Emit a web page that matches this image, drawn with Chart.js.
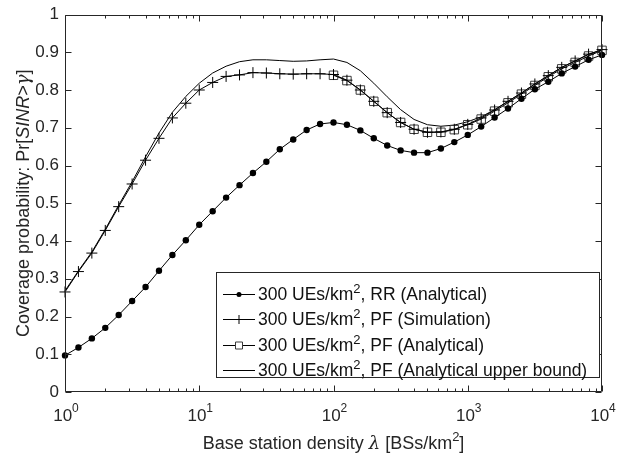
<!DOCTYPE html>
<html>
<head>
<meta charset="utf-8">
<script src="https://cdn.jsdelivr.net/npm/chart.js@4.4.1/dist/chart.umd.min.js"></script>
<style>
  html, body { margin: 0; padding: 0; background: #fff; }
  #wrap { width: 638px; height: 459px; }
</style>
</head>
<body>
<div id="wrap"><canvas id="chart" width="638" height="459"></canvas></div>
<script>
// --- data (BS density, 10 points per decade) ---
const densities = [1, 1.259, 1.585, 1.995, 2.512, 3.162, 3.981, 5.012, 6.310, 7.943,
  10, 12.59, 15.85, 19.95, 25.12, 31.62, 39.81, 50.12, 63.10, 79.43,
  100, 125.9, 158.5, 199.5, 251.2, 316.2, 398.1, 501.2, 631.0, 794.3,
  1000, 1259, 1585, 1995, 2512, 3162, 3981, 5012, 6310, 7943, 10000];
// squares of the analytical PF curve only start at 10^2
const pfAnalyticalDensities = [100, 125.9, 158.5, 199.5, 251.2, 316.2, 398.1, 501.2, 631.0, 794.3,
  1000, 1259, 1585, 1995, 2512, 3162, 3981, 5012, 6310, 7943, 10000];

const rrAnalytical = [0.097, 0.118, 0.142, 0.170, 0.204, 0.241, 0.278, 0.321, 0.363, 0.402,
  0.443, 0.479, 0.515, 0.548, 0.580, 0.610, 0.643, 0.669, 0.694, 0.710,
  0.714, 0.708, 0.693, 0.672, 0.653, 0.640, 0.634, 0.634, 0.645, 0.662,
  0.681, 0.703, 0.727, 0.751, 0.777, 0.802, 0.822, 0.844, 0.862, 0.880, 0.893];
const pfSimulation = [0.265, 0.319, 0.368, 0.428, 0.491, 0.551, 0.614, 0.672, 0.726, 0.765,
  0.800, 0.820, 0.836, 0.840, 0.846, 0.845, 0.843, 0.842, 0.843, 0.843,
  0.841, 0.826, 0.800, 0.770, 0.740, 0.714, 0.696, 0.688, 0.689, 0.696,
  0.709, 0.726, 0.747, 0.770, 0.792, 0.816, 0.838, 0.860, 0.877, 0.895, 0.907];
const pfAnalytical = [0.839, 0.825, 0.800, 0.770, 0.740, 0.714, 0.696, 0.688, 0.688, 0.695,
  0.708, 0.723, 0.744, 0.766, 0.789, 0.812, 0.835, 0.856, 0.873, 0.890, 0.905];
const pfUpperBound = [0.268, 0.321, 0.371, 0.431, 0.495, 0.557, 0.623, 0.686, 0.741, 0.783,
  0.818, 0.845, 0.863, 0.875, 0.880, 0.880, 0.878, 0.876, 0.877, 0.880,
  0.882, 0.873, 0.851, 0.818, 0.782, 0.748, 0.722, 0.708, 0.704, 0.707,
  0.716, 0.729, 0.748, 0.770, 0.792, 0.816, 0.838, 0.860, 0.877, 0.894, 0.906];

const seriesLabels = [
  '300 UEs/km², RR (Analytical)',
  '300 UEs/km², PF (Simulation)',
  '300 UEs/km², PF (Analytical)',
  '300 UEs/km², PF (Analytical upper bound)'
];

const yTicks = [0, 0.1, 0.2, 0.3, 0.4, 0.5, 0.6, 0.7, 0.8, 0.9, 1];
const yTickLabels = ['0', '0.1', '0.2', '0.3', '0.4', '0.5', '0.6', '0.7', '0.8', '0.9', '1'];
const xTicks = [1, 10, 100, 1000, 10000];
const xTickExponents = ['0', '1', '2', '3', '4'];

const FONT = '"Liberation Sans", Arial, Helvetica, sans-serif';
const SERIF = '"DejaVu Serif", "Liberation Serif", serif';
const axisColor = '#262626';

const toPoints = (xs, ys) => xs.map((x, i) => ({ x: x, y: ys[i] }));

// split a label on '²' so the 2 is drawn raised and smaller
function richPieces(text, size) {
    const parts = text.split('²');
    const out = [];
    parts.forEach((p, i) => {
        if (p) out.push({ t: p, font: size + 'px ' + FONT, dy: 0 });
        if (i < parts.length - 1) out.push({ t: '2', font: Math.round(size * 0.72) + 'px ' + FONT, dy: -Math.round(size * 0.42) });
    });
    return out;
}

function drawPieces(ctx, pieces, x, y, align) {
    let total = 0;
    pieces.forEach(p => { ctx.font = p.font; total += ctx.measureText(p.t).width; });
    let cx = align === 'center' ? x - total / 2 : x;
    ctx.textAlign = 'left';
    pieces.forEach(p => {
        ctx.font = p.font;
        ctx.fillText(p.t, cx, y + p.dy);
        cx += ctx.measureText(p.t).width;
    });
}

function drawMarker(ctx, style, x, y, r) {
    ctx.beginPath();
    if (style === 'circle') {
        ctx.arc(x, y, r, 0, Math.PI * 2);
        ctx.fill();
    } else if (style === 'cross') {
        ctx.moveTo(x - r, y); ctx.lineTo(x + r, y);
        ctx.moveTo(x, y - r); ctx.lineTo(x, y + r);
        ctx.stroke();
    } else if (style === 'rect') {
        ctx.rect(x - r, y - r, 2 * r, 2 * r);
        ctx.stroke();
    }
}

const legendStyles = [
    { marker: 'circle', r: 2.5 },
    { marker: 'cross', r: 4.5 },
    { marker: 'rect', r: 3.5 },
    { marker: null, r: 0 }
];

// MATLAB-like box: inward ticks on all four sides, tick labels, titles and legend
const matlabAxes = {
    id: 'matlabAxes',
    afterDatasetsDraw(chart) {
        const ctx = chart.ctx;
        const a = chart.chartArea;
        const xs = chart.scales.x, ys = chart.scales.y;
        const L = Math.round(a.left) + 0.5, R = Math.round(a.right) - 0.5;
        const T = Math.round(a.top) + 0.5, B = Math.round(a.bottom) - 0.5;

        ctx.save();
        ctx.strokeStyle = axisColor;
        ctx.lineWidth = 1;
        ctx.beginPath();
        ctx.rect(L, T, R - L, B - T);
        yTicks.forEach(v => {
            const p = Math.round(ys.getPixelForValue(v)) + 0.5;
            ctx.moveTo(L, p); ctx.lineTo(L + 6, p);
            ctx.moveTo(R, p); ctx.lineTo(R - 6, p);
        });
        xTicks.forEach((d, i) => {
            const p = Math.round(xs.getPixelForValue(d)) + 0.5;
            ctx.moveTo(p, B); ctx.lineTo(p, B - 6);
            ctx.moveTo(p, T); ctx.lineTo(p, T + 6);
            if (i < xTicks.length - 1) {
                for (let m = 2; m <= 9; m++) {
                    const q = Math.round(xs.getPixelForValue(d * m)) + 0.5;
                    ctx.moveTo(q, B); ctx.lineTo(q, B - 3);
                    ctx.moveTo(q, T); ctx.lineTo(q, T + 3);
                }
            }
        });
        ctx.stroke();

        // x tick labels 10^k
        ctx.fillStyle = axisColor;
        ctx.textBaseline = 'alphabetic';
        xTicks.forEach((d, i) => {
            const p = xs.getPixelForValue(d);
            drawPieces(ctx, [
                { t: '10', font: '17px ' + FONT, dy: 0 },
                { t: xTickExponents[i], font: '12px ' + FONT, dy: -9 }
            ], p + 1, 421, 'center');
        });

        // x title
        drawPieces(ctx, [
            { t: 'Base station density ', font: '18px ' + FONT, dy: 0 },
            { t: 'λ', font: 'italic 18px ' + SERIF, dy: 0 },
            { t: ' [BSs/km', font: '18px ' + FONT, dy: 0 },
            { t: '2', font: '13px ' + FONT, dy: -8 },
            { t: ']', font: '18px ' + FONT, dy: 0 }
        ], (a.left + a.right) / 2, 449, 'center');

        // y title (rotated)
        ctx.save();
        ctx.translate(29, (a.top + a.bottom) / 2);
        ctx.rotate(-Math.PI / 2);
        drawPieces(ctx, [
            { t: 'Coverage probability: Pr[', font: '18px ' + FONT, dy: 0 },
            { t: 'SINR', font: 'italic 18px ' + FONT, dy: 0 },
            { t: '>', font: '18px ' + FONT, dy: 0 },
            { t: 'γ', font: 'italic 18px ' + SERIF, dy: 0 },
            { t: ']', font: '18px ' + FONT, dy: 0 }
        ], 0, 0, 'center');
        ctx.restore();

        // legend box in the lower right corner
        const lx = a.right - 386, ly = a.bottom - 120, lw = 383, lh = 105;
        ctx.fillStyle = '#fff';
        ctx.fillRect(lx, ly, lw, lh);
        ctx.strokeRect(Math.round(lx) + 0.5, Math.round(ly) + 0.5, lw, lh);
        seriesLabels.forEach((label, i) => {
            const cy = ly + 21.5 + i * 25.6;
            const st = legendStyles[i];
            ctx.strokeStyle = '#000';
            ctx.fillStyle = '#000';
            ctx.beginPath();
            ctx.moveTo(lx + 7, Math.round(cy) + 0.5);
            ctx.lineTo(lx + 39, Math.round(cy) + 0.5);
            ctx.stroke();
            if (st.marker) {
                if (st.marker === 'rect') {
                    ctx.fillStyle = '#fff';
                    ctx.fillRect(lx + 23 - st.r, cy - st.r, 2 * st.r, 2 * st.r);
                    ctx.strokeStyle = '#3a3a3a';
                }
                ctx.fillStyle = '#000';
                drawMarker(ctx, st.marker, lx + 23, Math.round(cy) + 0.5, st.r);
            }
            ctx.fillStyle = '#111';
            drawPieces(ctx, richPieces(label, 17.5), lx + 42, cy + 6, 'left');
        });
        ctx.restore();
    }
};

const ctx = document.getElementById('chart').getContext('2d');
new Chart(ctx, {
    type: 'line',
    data: {
        datasets: [{
            label: seriesLabels[0],
            data: toPoints(densities, rrAnalytical),
            borderColor: '#000',
            borderWidth: 1,
            pointStyle: 'circle',
            pointRadius: 3.2,
            pointBackgroundColor: '#000',
            pointBorderColor: '#000',
            pointBorderWidth: 0,
            clip: false
        }, {
            label: seriesLabels[1],
            data: toPoints(densities, pfSimulation),
            borderColor: '#000',
            borderWidth: 1,
            pointStyle: 'cross',
            pointRadius: 5.5,
            pointBorderColor: '#000',
            pointBorderWidth: 1,
            clip: false
        }, {
            label: seriesLabels[2],
            data: toPoints(pfAnalyticalDensities, pfAnalytical),
            borderColor: '#000',
            borderWidth: 1,
            pointStyle: 'rect',
            pointRadius: 6,
            pointBackgroundColor: 'rgba(0,0,0,0)',
            pointBorderColor: '#3a3a3a',
            pointBorderWidth: 1,
            clip: false
        }, {
            label: seriesLabels[3],
            data: toPoints(densities, pfUpperBound),
            borderColor: '#000',
            borderWidth: 1,
            pointRadius: 0,
            clip: false
        }]
    },
    options: {
        responsive: false,
        animation: false,
        events: [],
        layout: { padding: { top: 10, right: 36, left: 0, bottom: 0 } },
        plugins: {
            legend: { display: false },
            tooltip: { enabled: false }
        },
        scales: {
            x: {
                type: 'logarithmic',
                min: 1,
                max: 10000,
                afterFit: (scale) => { scale.height = 67; },
                ticks: { display: false },
                grid: { display: false, drawTicks: false },
                border: { display: false }
            },
            y: {
                type: 'linear',
                min: 0,
                max: 1,
                afterBuildTicks: (scale) => { scale.ticks = yTicks.map(v => ({ value: v })); },
                afterFit: (scale) => { scale.width = 65; },
                ticks: {
                    padding: 6,
                    color: axisColor,
                    font: { family: FONT, size: 17, lineHeight: 1 },
                    callback: (value, index) => yTickLabels[index]
                },
                grid: { display: false, drawTicks: false },
                border: { display: false }
            }
        }
    },
    plugins: [matlabAxes]
});
</script>
</body>
</html>
